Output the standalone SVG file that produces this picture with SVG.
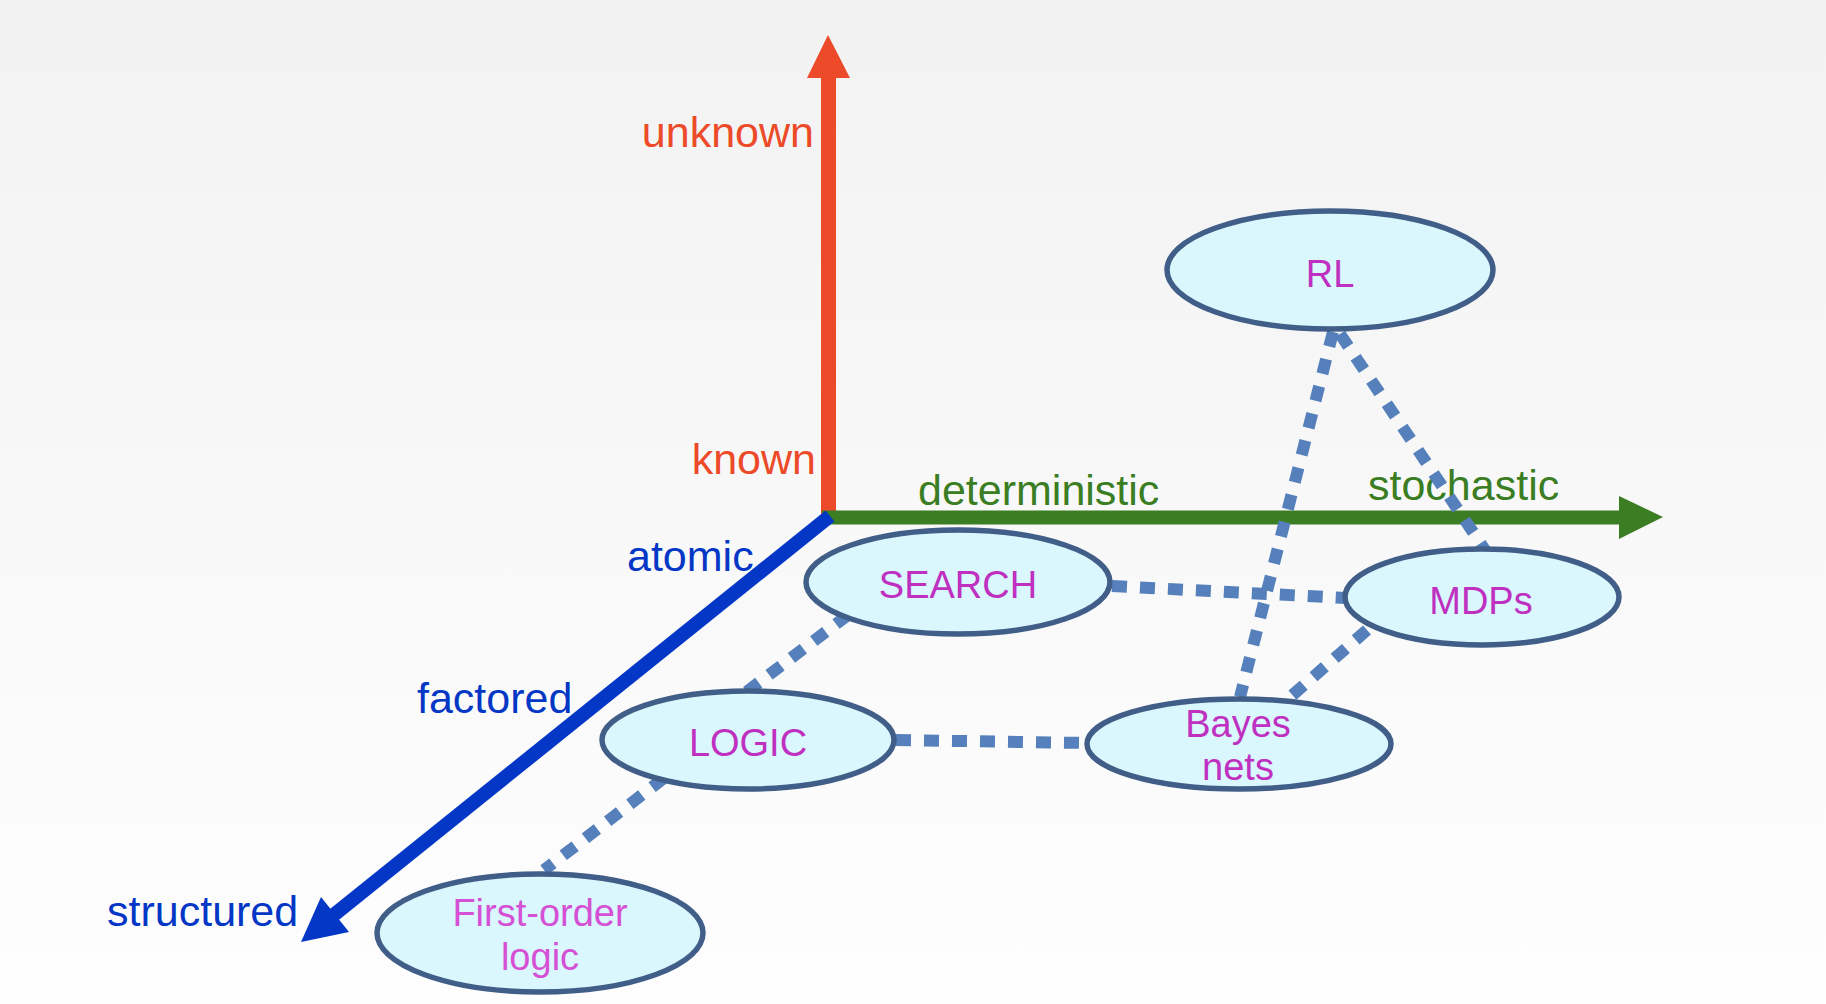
<svg xmlns="http://www.w3.org/2000/svg" width="1826" height="1004" viewBox="0 0 1826 1004">
<defs>
<linearGradient id="bg" x1="0" y1="0" x2="0" y2="1">
<stop offset="0" stop-color="#f2f2f2"/>
<stop offset="1" stop-color="#fefefe"/>
</linearGradient>
</defs>
<style>
.lbl{font-family:"Liberation Sans",Arial,sans-serif;font-size:43px}
.node ellipse{fill:#d9f7fc;stroke:#405e88;stroke-width:5.5}
.node text{font-family:"Liberation Sans",Arial,sans-serif;font-size:38px;fill:#c030c0;text-anchor:middle}
.conn line{stroke:#5580bb;stroke-width:12;stroke-dasharray:15 13;fill:none}
</style>
<rect width="1826" height="1004" fill="url(#bg)"/>
<g id="axes">
<line x1="828.5" y1="518" x2="828.5" y2="76" stroke="#ec4a28" stroke-width="15"/>
<polygon points="828,35 850,78 807,78" fill="#ec4a28"/>
<line x1="822" y1="517.5" x2="1622" y2="517.5" stroke="#3a7d22" stroke-width="14"/>
<polygon points="1663,517 1619,496 1619,539" fill="#3a7d22"/>
<line x1="830" y1="516" x2="330" y2="918" stroke="#0437c6" stroke-width="14"/>
<polygon points="301,942 321,897 349,932" fill="#0437c6"/>
<text class="lbl" x="814" y="147" text-anchor="end" fill="#ec4a28">unknown</text>
<text class="lbl" x="816" y="474" text-anchor="end" fill="#ec4a28">known</text>
<text class="lbl" x="918" y="505" fill="#3a7d22">deterministic</text>
<text class="lbl" x="1368" y="500" fill="#3a7d22">stochastic</text>
<text class="lbl" x="627" y="571" fill="#0437c6">atomic</text>
<text class="lbl" x="417" y="713" fill="#0437c6">factored</text>
<text class="lbl" x="107" y="926" fill="#0437c6">structured</text>
</g>
<g id="connectors" class="conn">
<line x1="1333" y1="332" x2="1240" y2="697"/>
<line x1="1340" y1="334" x2="1487" y2="553"/>
<line x1="1112" y1="586" x2="1346" y2="598"/>
<line x1="1367" y1="630" x2="1288" y2="699"/>
<line x1="848" y1="615" x2="745" y2="693"/>
<line x1="896" y1="740" x2="1087" y2="743"/>
<line x1="664" y1="778" x2="544" y2="870"/>
</g>
<g id="node-rl" class="node">
<ellipse cx="1330" cy="270" rx="163" ry="59"/>
<text x="1330" y="287">RL</text>
</g>
<g id="node-search" class="node">
<ellipse cx="958" cy="582" rx="152" ry="52"/>
<text x="958" y="598">SEARCH</text>
</g>
<g id="node-mdps" class="node">
<ellipse cx="1482" cy="597" rx="137" ry="48"/>
<text x="1481" y="614">MDPs</text>
</g>
<g id="node-logic" class="node">
<ellipse cx="748" cy="740" rx="146" ry="49"/>
<text x="748" y="756">LOGIC</text>
</g>
<g id="node-bayes" class="node">
<ellipse cx="1239" cy="744" rx="152" ry="45"/>
<text x="1238" y="737">Bayes</text>
<text x="1238" y="780">nets</text>
</g>
<g id="node-fol" class="node">
<ellipse cx="540" cy="933" rx="163" ry="59"/>
<text x="540" y="926" style="fill:#d650d6">First-order</text>
<text x="540" y="970" style="fill:#d650d6">logic</text>
</g>
</svg>
